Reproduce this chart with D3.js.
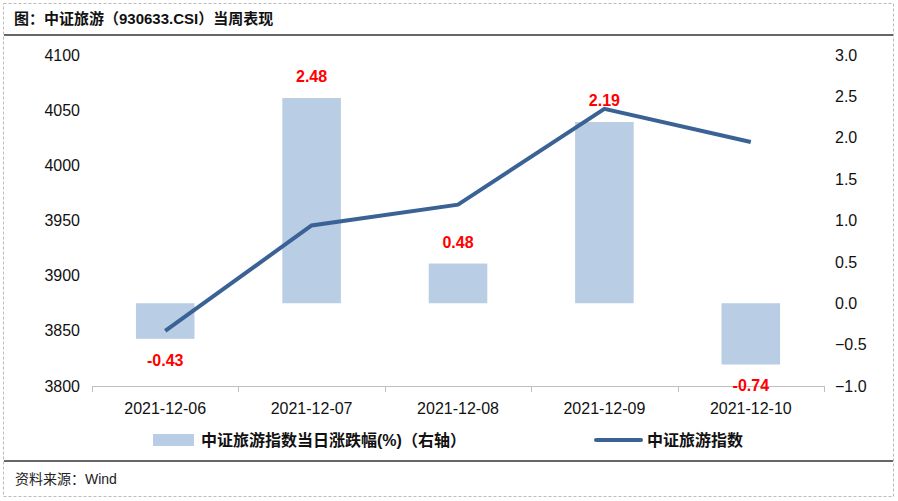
<!DOCTYPE html>
<html><head><meta charset="utf-8">
<script src="https://cdn.jsdelivr.net/npm/d3@7"></script>
<style>
body{margin:0;background:#fff;}
svg{display:block;font-family:"Liberation Sans",Arial,sans-serif;}
.cn{font-family:"Liberation Sans","Noto Sans CJK SC",sans-serif;}
</style></head><body>
<svg id="c" width="898" height="501"></svg>
<script>
const categories = ["2021-12-06","2021-12-07","2021-12-08","2021-12-09","2021-12-10"];
const changePct = [-0.43, 2.48, 0.48, 2.19, -0.74];
const indexVals = [3850.0, 3945.5, 3964.4, 4051.2, 4021.2];
const leftTicks = [3800,3850,3900,3950,4000,4050,4100];
const rightTicks = [-1.0,-0.5,0.0,0.5,1.0,1.5,2.0,2.5,3.0];
const titleText = "图：中证旅游（930633.CSI）当周表现";
const sourceText = "资料来源：Wind";
const legendBar = "中证旅游指数当日涨跌幅(%)（右轴）";
const legendLine = "中证旅游指数";

const svg = d3.select("#c");
const W=898,H=501;
const m={l:92,r:824,t:55,b:386};

svg.append("rect").attr("x",3.5).attr("y",3.5).attr("width",W-8).attr("height",H-8)
  .attr("fill","none").attr("stroke","#bbb").attr("stroke-dasharray","3,2");

svg.append("text").attr("class","cn").attr("x",14).attr("y",24).attr("font-size",15)
  .attr("font-weight","bold").attr("fill","#111").text(titleText);
svg.append("line").attr("x1",4).attr("x2",W-5).attr("y1",35).attr("y2",35)
  .attr("stroke","#333").attr("stroke-width",1.5);
svg.append("line").attr("x1",4).attr("x2",W-5).attr("y1",461).attr("y2",461)
  .attr("stroke","#333").attr("stroke-width",1.5);
svg.append("text").attr("class","cn").attr("x",15).attr("y",484).attr("font-size",14)
  .attr("fill","#222").text(sourceText);

const x = d3.scaleBand().domain(categories).range([m.l,m.r]).paddingInner(0).paddingOuter(0);
const yL = d3.scaleLinear().domain([3800,4100]).range([m.b,m.t]);
const yR = d3.scaleLinear().domain([-1,3]).range([m.b,m.t]);

const gL = svg.append("g").attr("transform",`translate(${m.l},0)`)
  .call(d3.axisLeft(yL).tickValues(leftTicks).tickSize(0).tickPadding(12).tickFormat(d3.format("d")));
gL.select(".domain").remove();
gL.selectAll("text").attr("font-size",16).attr("fill","#111").attr("font-family","Liberation Sans, Arial, sans-serif");

const gR = svg.append("g").attr("transform",`translate(${m.r},0)`)
  .call(d3.axisRight(yR).tickValues(rightTicks).tickSize(0).tickPadding(11).tickFormat(d3.format(".1f")));
gR.select(".domain").remove();
gR.selectAll("text").attr("font-size",16).attr("fill","#111").attr("font-family","Liberation Sans, Arial, sans-serif");

svg.append("line").attr("x1",m.l).attr("x2",m.r).attr("y1",m.b+0.5).attr("y2",m.b+0.5).attr("stroke","#bfbfbf");
const bounds = categories.map(c=>x(c)).concat([m.r]);
svg.selectAll(".xt").data(bounds).join("line").attr("class","xt")
  .attr("x1",d=>Math.round(d)+0.5).attr("x2",d=>Math.round(d)+0.5).attr("y1",m.b).attr("y2",m.b+6).attr("stroke","#bfbfbf");
svg.selectAll(".xl").data(categories).join("text").attr("class","xl")
  .attr("x",d=>x(d)+x.bandwidth()/2).attr("y",m.b+28).attr("text-anchor","middle")
  .attr("font-size",16).attr("fill","#111").text(d=>d);

const bw = x.bandwidth()*0.4;
svg.selectAll(".bar").data(changePct).join("rect").attr("class","bar")
  .attr("x",(d,i)=>x(categories[i])+x.bandwidth()/2-bw/2)
  .attr("width",bw)
  .attr("y",d=>Math.min(yR(d),yR(0)))
  .attr("height",d=>Math.abs(yR(d)-yR(0)))
  .attr("fill","#b9cde4");

const line = d3.line().x((d,i)=>x(categories[i])+x.bandwidth()/2).y(d=>yL(d));
svg.append("path").datum(indexVals).attr("d",line).attr("fill","none")
  .attr("stroke","#3a6295").attr("stroke-width",4).attr("stroke-linejoin","miter");

svg.selectAll(".lab").data(changePct).join("text").attr("class","lab")
  .attr("x",(d,i)=>x(categories[i])+x.bandwidth()/2)
  .attr("y",d=> d>=0 ? yR(d)-16 : yR(d)+27)
  .attr("text-anchor","middle").attr("font-size",16).attr("font-weight","bold")
  .attr("fill","#ff0000").text(d=>d.toFixed(2));

svg.append("rect").attr("x",153).attr("y",434).attr("width",41).attr("height",12).attr("fill","#b9cde4");
svg.append("text").attr("class","cn").attr("x",201).attr("y",446).attr("font-size",16)
  .attr("font-weight","bold").attr("fill","#111").text(legendBar);
svg.append("line").attr("x1",596).attr("x2",641).attr("y1",440).attr("y2",440)
  .attr("stroke","#3a6295").attr("stroke-width",4).attr("stroke-linecap","round");
svg.append("text").attr("class","cn").attr("x",647).attr("y",446).attr("font-size",16)
  .attr("font-weight","bold").attr("fill","#111").text(legendLine);
</script>
</body></html>
